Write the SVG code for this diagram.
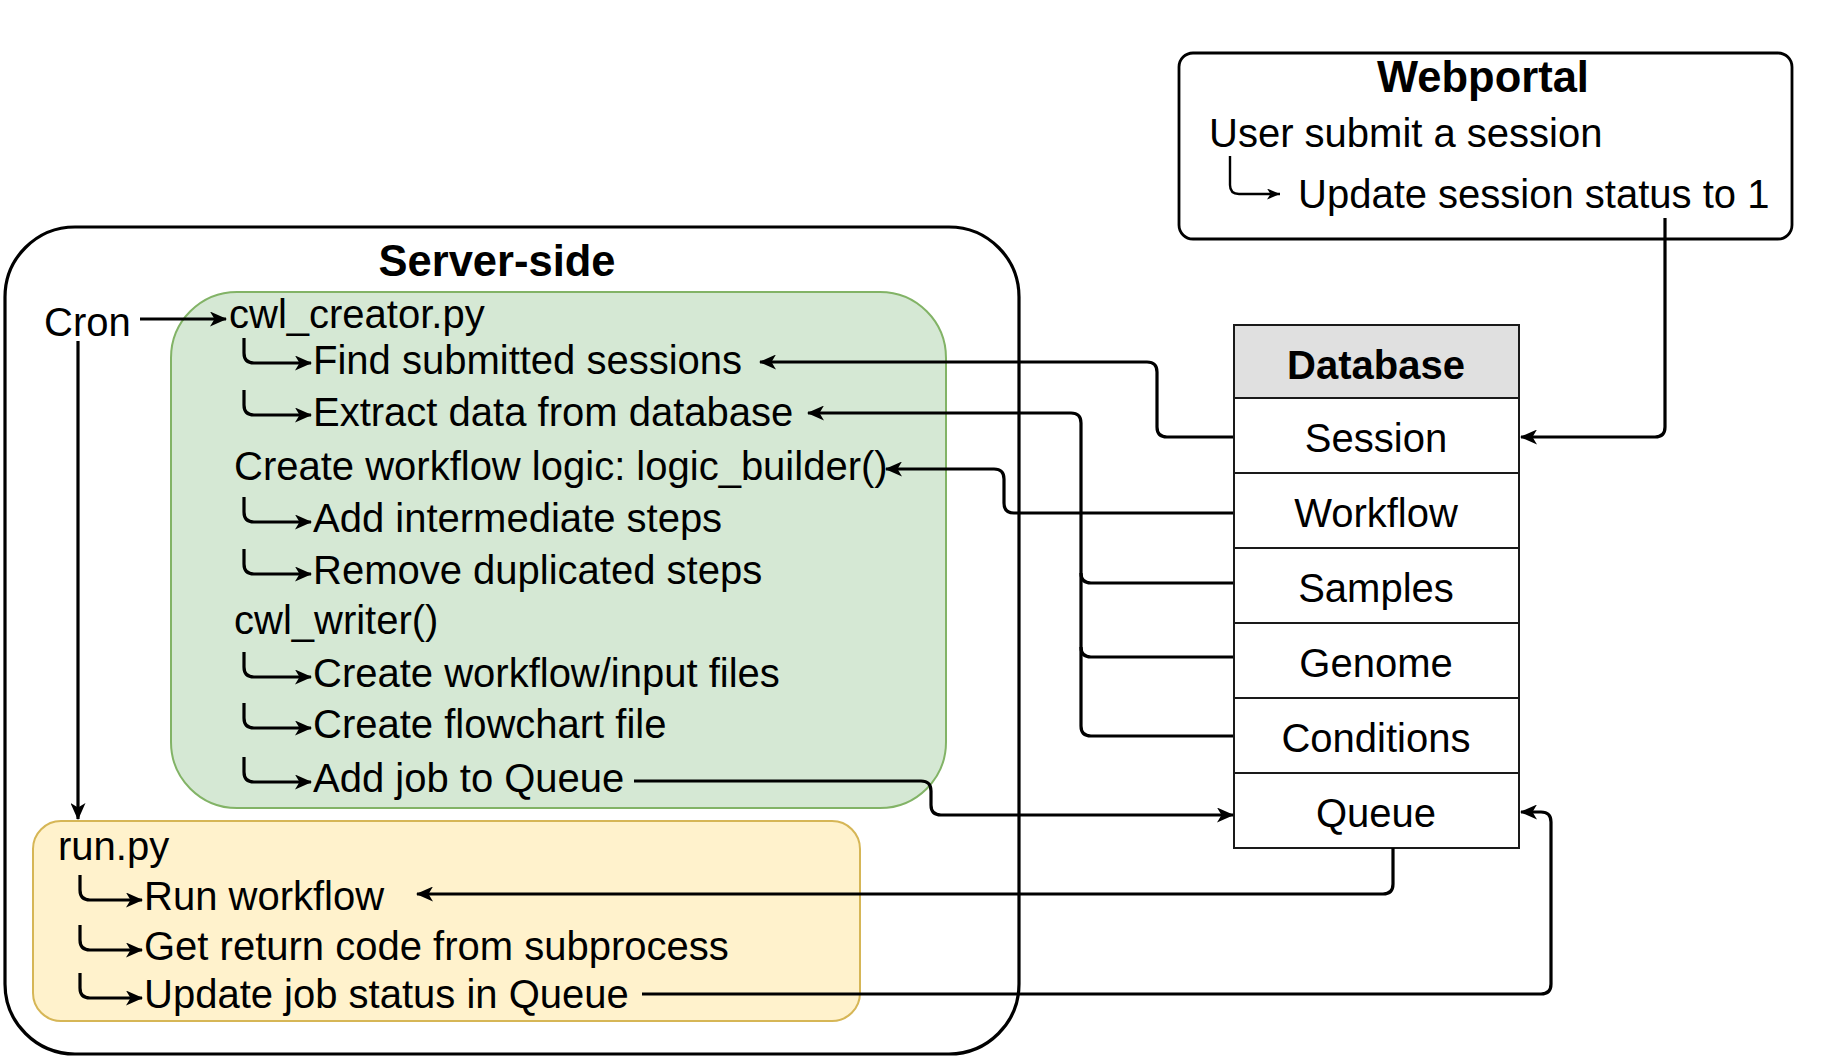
<svg xmlns="http://www.w3.org/2000/svg" width="1824" height="1056" viewBox="0 0 1824 1056">
<defs>
<style>
text{font-family:"Liberation Sans",Arial,Helvetica,sans-serif;fill:#000}
.t{font-size:40px}
.b{font-size:40px;font-weight:bold}
.h{font-size:43.5px;font-weight:bold}
.c{text-anchor:middle}
.ln{fill:none;stroke:#000;stroke-width:3.2;marker-end:url(#arr)}
.lnn{fill:none;stroke:#000;stroke-width:3.2}
.hk{fill:none;stroke:#000;stroke-width:3.2;marker-end:url(#arr)}
.row{fill:#fff;stroke:#1a1a1a;stroke-width:2}
</style>
<marker id="arr" viewBox="0 0 17 15" refX="16" refY="7.5" markerWidth="17" markerHeight="15" markerUnits="userSpaceOnUse" orient="auto">
<path d="M0,0 L17,7.5 L0,15 L4.5,7.5 Z" fill="#000"/>
</marker>
<marker id="arrs" viewBox="0 0 13 11" refX="13" refY="5.5" markerWidth="13" markerHeight="11" markerUnits="userSpaceOnUse" orient="auto">
<path d="M0,0 L13,5.5 L0,11 L3.5,5.5 Z" fill="#000"/>
</marker>
</defs>

<g id="server-side">
<rect x="5" y="227" width="1014" height="827" rx="70" ry="70" fill="#fff" stroke="#000" stroke-width="3.2"/>
<text class="h c" x="497" y="276">Server-side</text>
</g>

<g id="cron">
<text class="t" x="44" y="336">Cron</text>
</g>

<g id="cwl-creator">
<rect x="171" y="292" width="775" height="516" rx="66" ry="66" fill="#d5e8d4" stroke="#82b366" stroke-width="2"/>
<text class="t" x="229" y="328">cwl_creator.py</text>
<path class="hk" d="M244,338 L244,353 Q244,363 254,363 L311,363"/>
<text class="t" x="313" y="374">Find submitted sessions</text>
<path class="hk" d="M244,390 L244,405 Q244,415 254,415 L311,415"/>
<text class="t" x="313" y="426">Extract data from database</text>
<text class="t" x="234" y="480">Create workflow logic: logic_builder()</text>
<path class="hk" d="M244,497 L244,512 Q244,522 254,522 L311,522"/>
<text class="t" x="313" y="532">Add intermediate steps</text>
<path class="hk" d="M244,549 L244,564 Q244,574 254,574 L311,574"/>
<text class="t" x="313" y="584">Remove duplicated steps</text>
<text class="t" x="234" y="634">cwl_writer()</text>
<path class="hk" d="M244,652 L244,667 Q244,677 254,677 L311,677"/>
<text class="t" x="313" y="687">Create workflow/input files</text>
<path class="hk" d="M244,703 L244,718 Q244,728 254,728 L311,728"/>
<text class="t" x="313" y="738">Create flowchart file</text>
<path class="hk" d="M244,757 L244,772 Q244,782 254,782 L311,782"/>
<text class="t" x="313" y="792">Add job to Queue</text>
</g>

<g id="run-py">
<rect x="33" y="821" width="827" height="200" rx="28" ry="28" fill="#fff2cc" stroke="#d6b656" stroke-width="2"/>
<text class="t" x="58" y="860">run.py</text>
<path class="hk" d="M80,875 L80,890 Q80,900 90,900 L142,900"/>
<text class="t" x="144" y="910">Run workflow</text>
<path class="hk" d="M80,925 L80,940 Q80,950 90,950 L142,950"/>
<text class="t" x="144" y="960">Get return code from subprocess</text>
<path class="hk" d="M80,973 L80,988 Q80,998 90,998 L142,998"/>
<text class="t" x="144" y="1008">Update job status in Queue</text>
</g>

<g id="webportal">
<rect x="1179" y="53" width="613" height="186" rx="14" ry="14" fill="#fff" stroke="#000" stroke-width="2.8"/>
<text class="h c" x="1483" y="92">Webportal</text>
<text class="t" x="1209" y="147">User submit a session</text>
<path d="M1230,156 L1230,185 Q1230,194 1239,194 L1280,194" fill="none" stroke="#000" stroke-width="2.4" marker-end="url(#arrs)"/>
<text class="t" x="1298" y="208">Update session status to 1</text>
</g>

<g id="database">
<rect x="1234" y="325" width="285" height="73" fill="#e0e0e0" stroke="#1a1a1a" stroke-width="2"/>
<text class="b c" x="1376" y="379">Database</text>
<rect class="row" x="1234" y="398" width="285" height="75"/>
<text class="t c" x="1376" y="452">Session</text>
<rect class="row" x="1234" y="473" width="285" height="75"/>
<text class="t c" x="1376" y="527">Workflow</text>
<rect class="row" x="1234" y="548" width="285" height="75"/>
<text class="t c" x="1376" y="602">Samples</text>
<rect class="row" x="1234" y="623" width="285" height="75"/>
<text class="t c" x="1376" y="677">Genome</text>
<rect class="row" x="1234" y="698" width="285" height="75"/>
<text class="t c" x="1376" y="752">Conditions</text>
<rect class="row" x="1234" y="773" width="285" height="75"/>
<text class="t c" x="1376" y="827">Queue</text>
</g>

<g id="connectors">
<path class="ln" d="M140,319 L226,319"/>
<path class="ln" d="M78,341 L78,819"/>
<path class="ln" d="M1233,437 L1167,437 Q1157,437 1157,427 L1157,372 Q1157,362 1147,362 L760,362"/>
<path class="ln" d="M1233,736 L1091,736 Q1081,736 1081,726 L1081,423 Q1081,413 1071,413 L808,413"/>
<path class="lnn" d="M1233,657 L1091,657 Q1081,657 1081,647"/>
<path class="lnn" d="M1233,583 L1091,583 Q1081,583 1081,573"/>
<path class="ln" d="M1233,513 L1014,513 Q1004,513 1004,503 L1004,479 Q1004,469 994,469 L886,469"/>
<path class="ln" d="M634,781 L921,781 Q931,781 931,791 L931,805 Q931,815 941,815 L1233,815"/>
<path class="ln" d="M1393,848 L1393,884 Q1393,894 1383,894 L417,894"/>
<path class="ln" d="M642,994 L1541,994 Q1551,994 1551,984 L1551,822 Q1551,812 1541,812 L1521,812"/>
<path class="ln" d="M1665,218 L1665,427 Q1665,437 1655,437 L1521,437"/>
</g>
</svg>
